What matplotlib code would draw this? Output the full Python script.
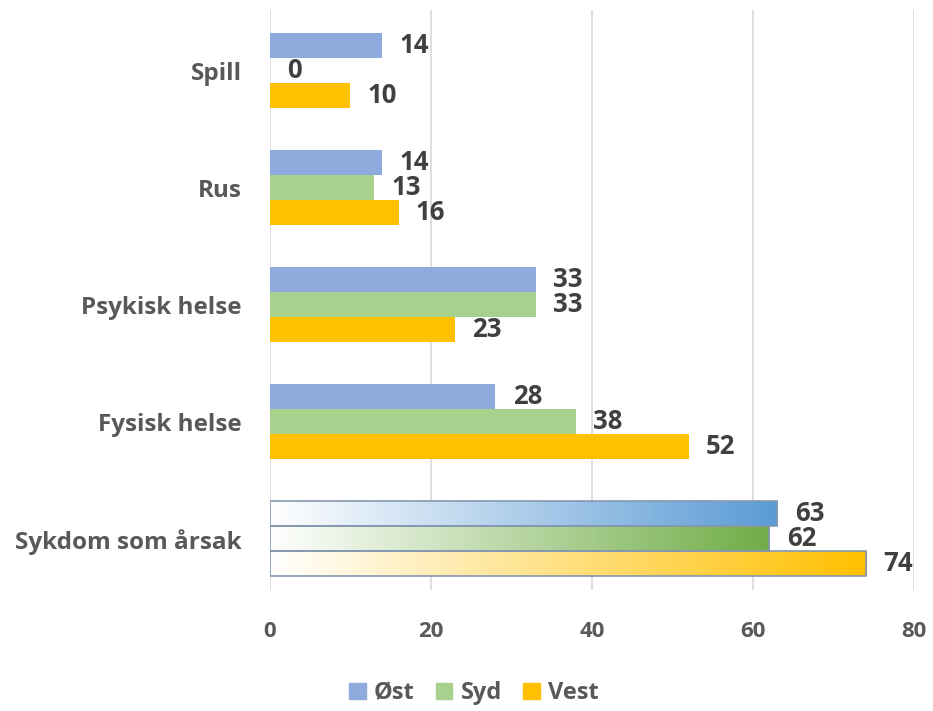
import numpy as np
import matplotlib
matplotlib.use("Agg")
import matplotlib.pyplot as plt
from matplotlib.colors import LinearSegmentedColormap
from matplotlib.patches import Patch

plt.rcParams['font.family'] = ['Open Sans', 'DejaVu Sans']

categories = ["Spill", "Rus", "Psykisk helse", "Fysisk helse", "Sykdom som årsak"]
series = ["Øst", "Syd", "Vest"]
ost = [14, 14, 33, 28, 63]
syd = [0, 13, 33, 38, 62]
vest = [10, 16, 23, 52, 74]
xticks = [0, 20, 40, 60, 80]

solid = {"Øst": "#8FAADC", "Syd": "#A9D18E", "Vest": "#FFC000"}
grad_end = {"Øst": "#5B9BD5", "Syd": "#70AD47", "Vest": "#FFC000"}

fig = plt.figure(figsize=(9.33, 7.11), dpi=100)
ax = fig.add_axes([0.289, 0.170, 0.691, 0.816])

n = len(categories)
ypos = np.arange(n)[::-1]  # Spill at top
h = 0.214
offsets = [h, 0, -h]
values = [ost, syd, vest]

for s, name in enumerate(series):
    for i, cat in enumerate(categories):
        v = values[s][i]
        y = ypos[i] + offsets[s]
        if cat == "Sykdom som årsak":
            cmap = LinearSegmentedColormap.from_list("g", ["#FFFFFF", grad_end[name]])
            grad = np.linspace(0, 1, 256).reshape(1, -1)
            im = ax.imshow(grad, cmap=cmap, aspect="auto",
                           extent=[0, v, y - h / 2, y + h / 2], zorder=2)
            bar = ax.barh(y, v, height=h, color="none", edgecolor="#8497B0",
                          linewidth=1.2, zorder=3)
            im.set_clip_path(bar[0])
        elif v > 0:
            ax.barh(y, v, height=h, color=solid[name], zorder=2)
        ax.annotate(str(v), (v, y), xytext=(12.5, 0), textcoords="offset points",
                    va="center", ha="left", fontsize=18.5, fontweight="bold",
                    color="#404040")

ax.set_xlim(0, 80)
ax.set_ylim(-0.44, 4.52)
ax.set_xticks(xticks)
ax.set_xticklabels([str(t) for t in xticks], fontsize=16, fontweight="bold",
                   color="#595959")
ax.set_yticks(ypos)
ax.set_yticklabels(categories, fontsize=17.5, fontweight="bold", color="#595959")
ax.tick_params(length=0)
ax.tick_params(axis="y", pad=20)
ax.tick_params(axis="x", pad=22)
for sp in ax.spines.values():
    sp.set_visible(False)
ax.xaxis.grid(True, color="#D9D9D9", linewidth=1.2, zorder=0)
ax.set_axisbelow(True)

handles = [Patch(color=solid[s], label=s) for s in series]
fig.legend(handles=handles, loc="center", bbox_to_anchor=(0.508, 0.025), ncol=3,
           frameon=False, handlelength=0.7, handleheight=0.7, handletextpad=0.35,
           columnspacing=0.9, prop={"size": 17, "weight": "bold"},
           labelcolor="#595959")

fig.savefig("out.png", dpi=100)
